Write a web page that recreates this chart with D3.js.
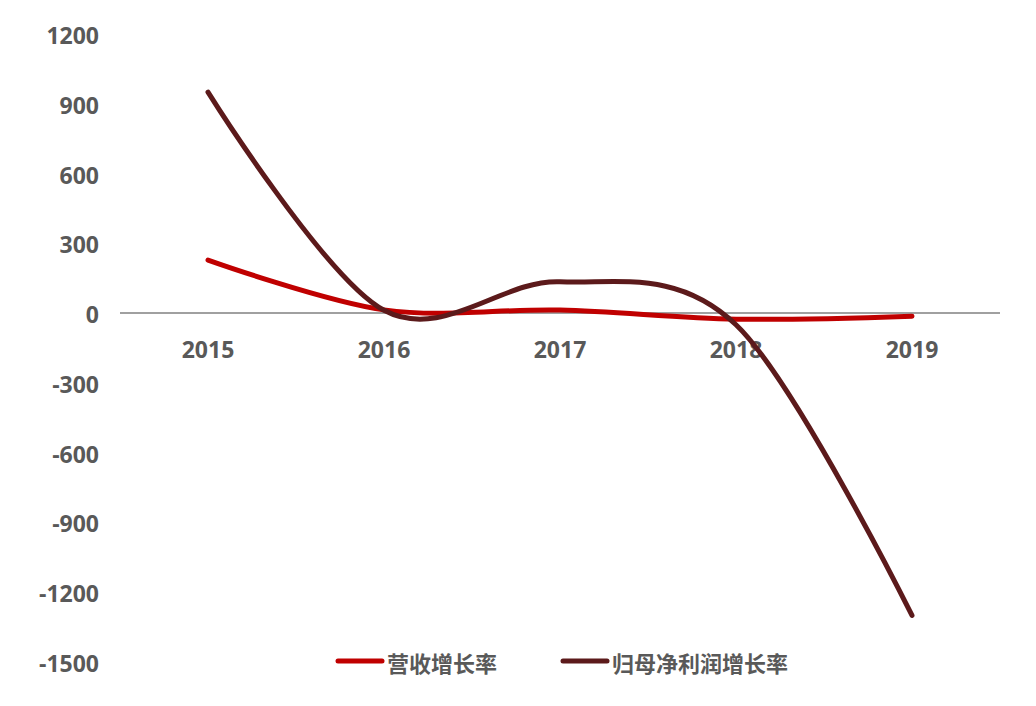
<!DOCTYPE html>
<html>
<head>
<meta charset="utf-8">
<script src="https://cdn.jsdelivr.net/npm/d3@7/dist/d3.min.js"></script>
<style>
html,body{margin:0;padding:0;background:#fff;}
svg{display:block;}
</style>
</head>
<body>
<svg id="chart" width="1036" height="706"></svg>
<script>
const categories = ["2015", "2016", "2017", "2018", "2019"];
const seriesNames = ["营收增长率", "归母净利润增长率"];
const revenueGrowth = [228, 14, 13, -26, -13];
const profitGrowth = [950, 12, 135, -50, -1300];
const yTicks = [1200, 900, 600, 300, 0, -300, -600, -900, -1200, -1500];
const colors = ["#C00000", "#5C1A1B"];

const svg = d3.select("#chart");
const x = d3.scaleBand().domain(categories).range([120, 1000]);
const y = d3.scaleLinear().domain([-1500, 1200]).range([662, 34]);

const tickFont = "'Open Sans', 'Liberation Sans', Arial, sans-serif";

// y tick labels
svg.append("g").selectAll("text").data(yTicks).join("text")
  .attr("x", 99).attr("y", d => y(d) + 1)
  .attr("text-anchor", "end").attr("dominant-baseline", "central")
  .attr("font-family", tickFont)
  .attr("font-weight", "bold").attr("font-size", 23).attr("fill", "#595959")
  .text(d => d);

// zero axis line
svg.append("line")
  .attr("x1", 120).attr("x2", 1000).attr("y1", y(0)).attr("y2", y(0))
  .attr("stroke", "#808080").attr("stroke-width", 1.5);

// x labels
svg.append("g").selectAll("text").data(categories).join("text")
  .attr("x", d => x(d) + x.bandwidth() / 2).attr("y", 349)
  .attr("text-anchor", "middle").attr("dominant-baseline", "central")
  .attr("font-family", tickFont)
  .attr("font-weight", "bold").attr("font-size", 23).attr("fill", "#595959")
  .text(d => d);

const line = d3.line()
  .x((d, i) => x(categories[i]) + x.bandwidth() / 2)
  .y(d => y(d))
  .curve(d3.curveCardinal.tension(0));

[revenueGrowth, profitGrowth].forEach((s, k) => {
  svg.append("path").datum(s)
    .attr("d", line)
    .attr("fill", "none")
    .attr("stroke", colors[k])
    .attr("stroke-width", 5)
    .attr("stroke-linecap", "round")
    .attr("stroke-linejoin", "round");
});

// legend
const legendX = [336, 561];
seriesNames.forEach((n, k) => {
  const g = svg.append("g");
  g.append("line")
    .attr("x1", legendX[k] + 2).attr("x2", legendX[k] + 46)
    .attr("y1", 661).attr("y2", 661)
    .attr("stroke", colors[k]).attr("stroke-width", 5).attr("stroke-linecap", "round");
  g.append("text")
    .attr("x", legendX[k] + 51).attr("y", 662)
    .attr("dominant-baseline", "central")
    .attr("font-family", "'Noto Sans CJK SC', sans-serif")
    .attr("font-weight", "bold").attr("font-size", 22).attr("fill", "#595959")
    .text(n);
});
</script>
</body>
</html>
